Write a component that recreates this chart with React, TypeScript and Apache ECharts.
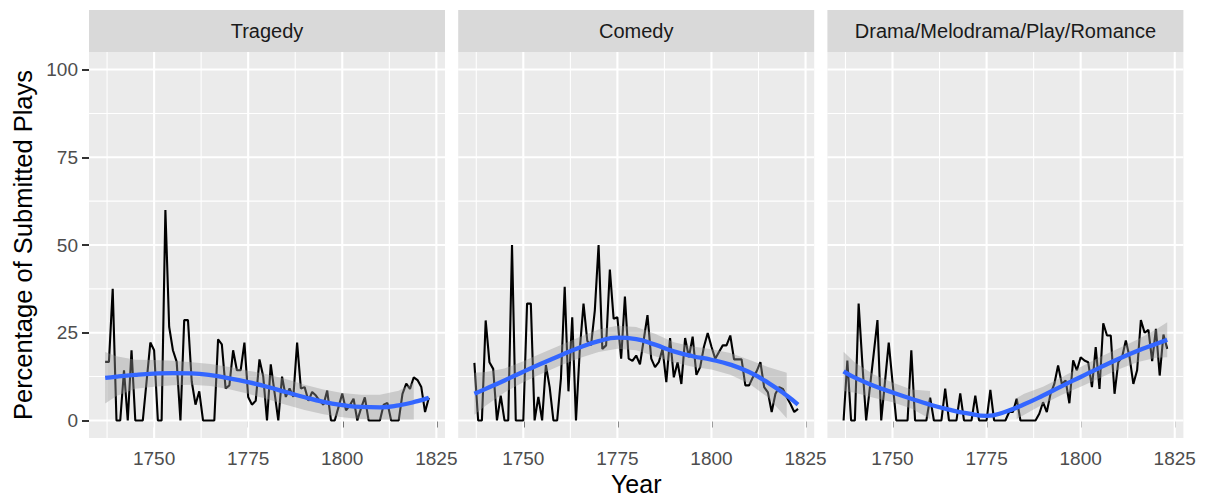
import React, { useEffect, useRef } from 'react';
import * as echarts from 'echarts';

const panelNames = ['Tragedy', 'Comedy', 'Drama/Melodrama/Play/Romance'];
const firstYear = 1737;
const lastYear = 1823;
const years = Array.from({ length: lastYear - firstYear + 1 }, (_, i) => firstYear + i);

const tragedyPct = [
  16.7, 16.7, 37.5, 0, 0, 14.3, 0, 20, 0, 0,
  0, 11.1, 22.2, 20, 0, 0, 60, 26.7, 20, 16.7,
  0, 28.6, 28.6, 11.1, 4.5, 8.3, 0, 0, 0, 0,
  23.1, 21.7, 9.1, 10, 20, 14.3, 14.3, 22.2, 6.7, 4.5,
  5.6, 17.4, 12.5, 0, 16, 8, 0, 12.5, 6.7, 9.1,
  6.7, 22.2, 9.1, 9.5, 5.6, 8.1, 7.1, 5.6, 4.5, 8.5,
  0, 0, 3.8, 7.7, 2.9, 4.3, 6.2, 0, 3.5, 6.6,
  0, 0, 0, 0, 4.5, 5, 0, 0, 0, 7.6,
  10.5, 9, 12.3, 11.5, 9.5, 2.4, 6.5,
];
const comedyPct = [
  16.4, 0, 0, 28.5, 16.6, 14.7, 0, 7.1, 0, 0,
  50, 0, 0, 0, 33.3, 33.3, 0, 6.7, 0, 15.8,
  9.5, 0, 0, 12, 38.1, 8.3, 29.4, 0, 20, 33.3,
  22.7, 21.4, 31.3, 50, 20.4, 21.4, 43, 29, 29.4, 17.6,
  35.3, 17.6, 17, 18.5, 16, 23, 30, 17.6, 15.2, 16.6,
  20.4, 10.9, 23.5, 12.3, 16.6, 10.4, 23.5, 18, 23.9, 13,
  15.2, 21, 24.9, 21, 17.6, 19.5, 21.4, 21.4, 24.2, 17.4,
  17.4, 17.4, 10, 10, 12.3, 14, 16.6, 9.5, 8, 2.4,
  7.6, 9.5, 9, 6.6, 4.7, 2.4, 3.3,
];
const dramaPct = [
  0, 17.1, 0, 0, 33.3, 16, 0, 9.5, 19, 28.6,
  0, 11, 22.2, 11, 0, 0, 0, 0, 20, 0,
  0, 0, 0, 6.5, 0, 0, 0, 9.1, 0, 0,
  0, 7.7, 0, 0, 0, 7.1, 0, 0, 0, 8.7,
  0, 0, 0, 0, 2.4, 2.4, 6.2, 0, 0, 0,
  0, 0, 1.9, 5.2, 2.4, 7.6, 10.4, 15.7, 10.4, 11.4,
  4.9, 17.1, 14.3, 18, 17.1, 16.6, 9.5, 20.9, 9, 27.7,
  24.2, 24.2, 7.6, 16.6, 18, 22.8, 18, 10.4, 14.3, 28.6,
  25, 25.8, 16.9, 26.1, 12.8, 24.5, 20.4,
];

// loess fit
const smoothYears = [1737, 1740, 1745, 1750, 1755, 1760, 1765, 1770, 1775, 1780, 1785, 1790, 1795, 1800, 1805, 1810, 1815, 1820, 1823];
const tragedySmooth = [12.1, 12.5, 13.0, 13.35, 13.5, 13.4, 12.9, 12.0, 10.9, 9.6, 8.1, 6.6, 5.3, 4.4, 3.85, 3.75, 4.3, 5.5, 6.5];
const comedySmooth = [7.6, 9.0, 11.4, 13.9, 16.3, 18.6, 20.8, 22.6, 23.6, 23.2, 21.6, 19.7, 18.3, 17.3, 15.9, 13.8, 10.8, 7.1, 4.5];
const dramaSmooth = [14.0, 12.2, 9.9, 8.0, 6.2, 4.5, 3.1, 2.0, 1.3, 2.5, 4.6, 7.1, 9.8, 12.4, 15.0, 17.5, 19.8, 21.8, 23.0];

// confidence band segments
const tragedyBandYears = [1737, 1740, 1745, 1750, 1755, 1760, 1765, 1770, 1775, 1780, 1785, 1790, 1795, 1800, 1805, 1810, 1815, 1819];
const tragedyLower = [4.8, 7.0, 9.0, 9.6, 10.0, 10.2, 9.8, 8.9, 7.6, 6.1, 4.5, 3.0, 1.8, 0.9, 0.4, 0.3, 0.3, 0.3];
const tragedyUpper = [19.5, 18.3, 17.3, 17.2, 17.0, 16.6, 16.1, 15.2, 14.2, 13.2, 11.8, 10.2, 8.8, 7.8, 7.3, 7.3, 8.5, 10.8];

const comedyBandYears = [1737, 1740, 1745, 1750, 1755, 1760, 1765, 1770, 1775, 1780, 1785, 1790, 1795, 1800, 1805, 1810, 1815, 1820];
const comedyLower = [1.6, 4.2, 8.0, 10.9, 13.4, 15.7, 17.8, 19.5, 20.4, 20.0, 18.3, 16.5, 15.3, 14.5, 13.0, 10.5, 6.6, 0.6];
const comedyUpper = [13.6, 13.8, 14.8, 16.9, 19.2, 21.5, 23.8, 25.9, 27.0, 26.6, 24.7, 22.3, 21.1, 20.3, 19.2, 17.3, 15.2, 13.6];

const dramaBandYearsA = [1737, 1740, 1745, 1750, 1755, 1760];
const dramaLowerA = [8.4, 7.9, 6.5, 5.2, 3.4, 0.4];
const dramaUpperA = [19.6, 16.5, 13.1, 10.8, 8.8, 8.4];
const dramaBandYearsB = [1783, 1785, 1790, 1795, 1800, 1805, 1810, 1815, 1820, 1823];
const dramaLowerB = [0.4, 1.6, 4.6, 7.3, 9.6, 12.0, 14.5, 16.6, 17.9, 18.0];
const dramaUpperB = [6.4, 7.6, 9.6, 12.3, 15.2, 18.0, 20.5, 23.0, 25.9, 28.0];

const xTicks = [1750, 1775, 1800, 1825];
const xMinor = [1737.5, 1762.5, 1787.5, 1812.5];
const yTicks = [0, 25, 50, 75, 100];
const yMinor = [12.5, 37.5, 62.5, 87.5];

const X_MIN = 1732.7;
const X_MAX = 1827.3;
const Y_MIN = -5;
const Y_MAX = 105;

const FONT = '"Liberation Sans", Arial, Helvetica, sans-serif';
const panelLefts = [89, 458.2, 827.4];
const PANEL_W = 356;
const PANEL_TOP = 52;
const PANEL_H = 386;
const STRIP_TOP = 10;

function buildOption() {
  const panels = [
    { pct: tragedyPct, smooth: tragedySmooth, bands: [{ years: tragedyBandYears, lower: tragedyLower, upper: tragedyUpper }] },
    { pct: comedyPct, smooth: comedySmooth, bands: [{ years: comedyBandYears, lower: comedyLower, upper: comedyUpper }] },
    {
      pct: dramaPct,
      smooth: dramaSmooth,
      bands: [
        { years: dramaBandYearsA, lower: dramaLowerA, upper: dramaUpperA },
        { years: dramaBandYearsB, lower: dramaLowerB, upper: dramaUpperB },
      ],
    },
  ];

  const grid: any[] = [];
  const xAxis: any[] = [];
  const yAxis: any[] = [];
  const series: any[] = [];
  const graphic: any[] = [];

  const gridItems = [
    ...xMinor.map((v) => [v, 0, 1]),
    ...yMinor.map((v) => [v, 0, 0]),
    ...xTicks.map((v) => [v, 1, 1]),
    ...yTicks.map((v) => [v, 1, 0]),
  ];

  panels.forEach((p, i) => {
    grid.push({
      left: panelLefts[i],
      top: PANEL_TOP,
      width: PANEL_W,
      height: PANEL_H,
      show: true,
      backgroundColor: '#EBEBEB',
      borderWidth: 0,
    });
    xAxis.push({
      gridIndex: i,
      type: 'value',
      min: X_MIN,
      max: X_MAX,
      splitLine: { show: false },
      axisLine: { show: false },
      axisTick: { show: true, length: 7, lineStyle: { color: '#333333', width: 2 }, customValues: xTicks },
      axisLabel: {
        customValues: xTicks,
        formatter: (v: number) => String(v),
        color: '#4D4D4D',
        fontSize: 19,
        fontFamily: FONT,
        margin: 11,
      },
    });
    yAxis.push({
      gridIndex: i,
      type: 'value',
      min: Y_MIN,
      max: Y_MAX,
      show: i === 0,
      splitLine: { show: false },
      axisLine: { show: false },
      axisTick: { show: i === 0, length: 7, lineStyle: { color: '#333333', width: 2 }, customValues: yTicks },
      axisLabel: {
        show: i === 0,
        customValues: yTicks,
        formatter: (v: number) => String(v),
        color: '#4D4D4D',
        fontSize: 19,
        fontFamily: FONT,
        margin: 11,
      },
    });

    series.push({
      type: 'custom',
      xAxisIndex: i,
      yAxisIndex: i,
      silent: true,
      z: 1,
      data: gridItems,
      renderItem: (params: any, api: any) => {
        const v = api.value(0);
        const major = api.value(1) === 1;
        const isX = api.value(2) === 1;
        const p1 = isX ? api.coord([v, Y_MIN]) : api.coord([X_MIN, v]);
        const p2 = isX ? api.coord([v, Y_MAX]) : api.coord([X_MAX, v]);
        return {
          type: 'line',
          shape: { x1: p1[0], y1: p1[1], x2: p2[0], y2: p2[1] },
          style: { stroke: '#FFFFFF', lineWidth: major ? 2.1 : 1.05 },
        };
      },
    });

    series.push({
      type: 'line',
      xAxisIndex: i,
      yAxisIndex: i,
      silent: true,
      z: 2,
      symbol: 'none',
      data: years.map((yr, k) => [yr, p.pct[k]]),
      lineStyle: { color: '#000000', width: 2.1 },
    });

    const bands = p.bands;
    series.push({
      type: 'custom',
      xAxisIndex: i,
      yAxisIndex: i,
      silent: true,
      z: 3,
      data: bands.map((_, k) => [1780, 50, k]),
      renderItem: (params: any, api: any) => {
        const seg = bands[params.dataIndex];
        const top = seg.years.map((yr, k) => api.coord([yr, seg.upper[k]]));
        const bot = seg.years.map((yr, k) => api.coord([yr, seg.lower[k]])).reverse();
        return {
          type: 'polygon',
          shape: { points: top.concat(bot), smooth: 0 },
          style: { fill: 'rgba(153,153,153,0.4)' },
        };
      },
    });

    series.push({
      type: 'line',
      xAxisIndex: i,
      yAxisIndex: i,
      silent: true,
      z: 4,
      symbol: 'none',
      smooth: 0.5,
      data: smoothYears.map((yr, k) => [yr, p.smooth[k]]),
      lineStyle: { color: '#3366FF', width: 4.3 },
    });

    graphic.push({
      type: 'rect',
      shape: { x: panelLefts[i], y: STRIP_TOP, width: PANEL_W, height: PANEL_TOP - STRIP_TOP },
      style: { fill: '#D9D9D9' },
      silent: true,
    });
    graphic.push({
      type: 'text',
      x: panelLefts[i] + PANEL_W / 2,
      y: (STRIP_TOP + PANEL_TOP) / 2,
      style: {
        text: panelNames[i],
        fill: '#1A1A1A',
        fontSize: 20,
        fontFamily: FONT,
        align: 'center',
        verticalAlign: 'middle',
        textAlign: 'center',
        textVerticalAlign: 'middle',
      },
      silent: true,
    });
  });

  graphic.push({
    type: 'text',
    x: (panelLefts[0] + panelLefts[2] + PANEL_W) / 2,
    y: 484,
    style: {
      text: 'Year',
      fill: '#000000',
      fontSize: 25,
      fontFamily: FONT,
      align: 'center',
      verticalAlign: 'middle',
      textAlign: 'center',
      textVerticalAlign: 'middle',
    },
    silent: true,
  });
  graphic.push({
    type: 'text',
    x: 23,
    y: PANEL_TOP + PANEL_H / 2,
    rotation: Math.PI / 2,
    style: {
      text: 'Percentage of Submitted Plays',
      fill: '#000000',
      fontSize: 25.5,
      fontFamily: FONT,
      align: 'center',
      verticalAlign: 'middle',
      textAlign: 'center',
      textVerticalAlign: 'middle',
    },
    silent: true,
  });

  return {
    animation: false,
    backgroundColor: '#FFFFFF',
    grid,
    xAxis,
    yAxis,
    series,
    graphic,
  };
}

export default function App() {
  const ref = useRef<HTMLDivElement>(null);
  useEffect(() => {
    document.body.style.margin = '0';
    const chart = echarts.init(ref.current as HTMLDivElement, null, { renderer: 'svg' });
    chart.setOption(buildOption() as any);
    return () => chart.dispose();
  }, []);
  return <div ref={ref} style={{ width: 1206, height: 497 }} />;
}
